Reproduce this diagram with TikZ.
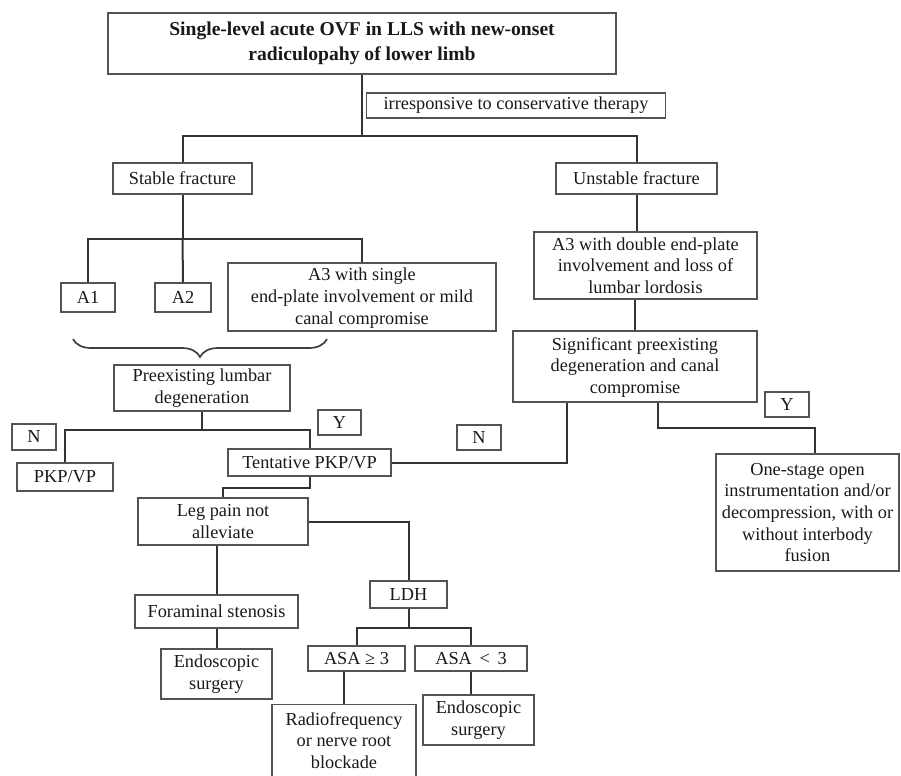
\documentclass[tikz,border=0pt]{standalone}
\usepackage{fontspec}
\setmainfont{Liberation Serif}
\usetikzlibrary{decorations.pathreplacing,calc}

\begin{document}
\begin{tikzpicture}[x=0.5pt,y=-0.5pt,
        box/.style={draw=gray!65!black,line width=0.7pt,inner sep=0pt,align=center,text=black!90,
            font=\fontsize{9.15}{10.85}\selectfont},
        sz/.style 2 args={minimum width=#1*0.5pt,minimum height=#2*0.5pt},
        link/.style={draw=black!80,line width=1pt}]
            \useasboundingbox (0,0) rectangle (901,776);
            % top
            \node[box,sz={508}{61},font=\bfseries\fontsize{9.8}{12.5}\selectfont] (title) at (362,43.5)
                {Single-level acute OVF in LLS with new-onset\\radiculopahy of lower limb};
            \node[box,sz={299}{25}] (irresp) at (516,105.5) {irresponsive to conservative therapy};
            \node[box,sz={139}{31}] (stable) at (182.5,178.5) {Stable fracture};
            \node[box,sz={161}{31}] (unstable) at (636.5,178.5) {Unstable fracture};
            % stable branch
            \node[box,sz={54}{29}] (a1) at (88,297.5) {A1};
            \node[box,sz={56}{29}] (a2) at (183,297.5) {A2};
            \node[box,sz={268}{68},text depth=1pt] (a3s) at (362,297) {A3 with single\\end-plate involvement or mild\\canal compromise};
            \node[box,sz={176}{46}] (pre) at (202,388) {Preexisting lumbar\\degeneration};
            \node[box,sz={44}{26}] (nl) at (34,437) {N};
            \node[box,sz={43}{25}] (yl) at (339.5,422.5) {Y};
            \node[box,sz={96}{28}] (pkp) at (65,477) {PKP/VP};
            \node[box,sz={163}{27}] (tent) at (309.5,462.5) {Tentative PKP/VP};
            \node[box,sz={170}{47}] (leg) at (223,521.5) {Leg pain not\\alleviate};
            \node[box,sz={163}{33}] (foram) at (216.5,611.5) {Foraminal stenosis};
            \node[box,sz={111}{50}] (endo1) at (216.5,674) {Endoscopic\\surgery};
            \node[box,sz={77}{27}] (ldh) at (408.5,594.5) {LDH};
            \node[box,sz={97}{25}] (asa1) at (356.5,658.5) {ASA ≥ 3};
            \node[box,sz={112}{25}] (asa2) at (471,658.5) {ASA \,<\, 3};
            \node[box,sz={144}{72}] (radio) at (344,740.5) {Radiofrequency\\or nerve root\\blockade};
            \node[box,sz={111}{50}] (endo2) at (478.5,720) {Endoscopic\\surgery};
            % unstable branch
            \node[box,sz={223}{67}] (a3d) at (645.5,265.5) {A3 with double end-plate\\involvement and loss of\\lumbar lordosis};
            \node[box,sz={244}{71},text depth=1pt] (sig) at (635,366.5) {Significant preexisting\\degeneration and canal\\compromise};
            \node[box,sz={44}{25}] (nr) at (479,437.5) {N};
            \node[box,sz={44}{25}] (yr) at (787,404.5) {Y};
            \node[box,sz={183}{117}] (one) at (807.5,512.5)
                {One-stage open\\instrumentation and/or\\decompression, with or\\without interbody\\fusion};
            % brace over A1, A2, A3
            \draw[decorate,decoration={brace,mirror,amplitude=9pt},draw=gray!50!black,line width=0.85pt] (73,339) -- (327,339);
            % connectors
            \draw[link] (title.south) -- ++(0,61) coordinate (j1);
            \draw[link] (stable.north) |- (j1) -| (unstable.north);
            \draw[link] (stable.south) -- ++(0,44) coordinate (j2);
            \draw[link] (a1.north) |- (j2) -| (a3s.north);
            \draw[link] (j2) -- (a2.north);
            \draw[link] (unstable.south) -- (unstable.south |- a3d.north);
            \draw[link] (a3d.south -| sig.north) -- (sig.north);
            \draw[link] (pre.south) -- ++(0,18) coordinate (j3);
            \draw[link] (pkp.north) |- (j3) -| (tent.north);
            \draw[link] (tent.east) -| ([xshift=-34pt]sig.south);
            \draw[link] ([xshift=11.5pt]sig.south) -- ++(0,25) -| ([xshift=3.5pt]one.north);
            \draw[link] (tent.south) -- ++(0,11) -| (leg.north);
            \draw[link] (leg.east) -| (ldh.north);
            \draw[link] (foram.north |- leg.south) -- (foram.north);
            \draw[link] (foram.south) -- (endo1.north);
            \draw[link] (ldh.south) -- ++(0,19) coordinate (j4);
            \draw[link] (asa1.north) |- (j4) -| (asa2.north);
            \draw[link] (radio.north |- asa1.south) -- (radio.north);
            \draw[link] (asa2.south) -- (asa2.south |- endo2.north);
        \end{tikzpicture}
\end{document}
